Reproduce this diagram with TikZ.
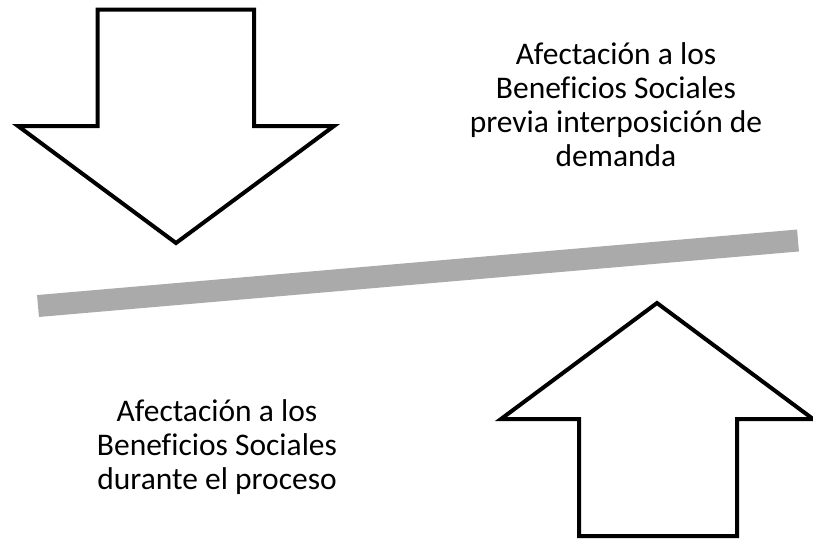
\documentclass[tikz,border=0pt]{standalone}
\usepackage{fontspec}
\setmainfont[Ligatures=CommonOff]{Carlito}
\begin{document}
\begin{tikzpicture}[x=1pt,y=-1pt,
  bigarrow/.style={draw=black,line width=4pt,line join=miter,fill=white},
  bar/.style={draw={rgb,255:red,170;green,170;blue,170},line width=22pt,line cap=butt},
  lbl/.style={align=center,inner sep=0pt,font=\fontsize{31.5}{34}\selectfont}]
\useasboundingbox (0,0) rectangle (813,539);
% down arrow
\draw[bigarrow] (97.5,9.5) -- (254,9.5) -- (254,126) -- (334,126) -- (176,243) -- (18,126) -- (97.5,126) -- cycle;
% up arrow
\draw[bigarrow] (579,536) -- (737,536) -- (737,419) -- (813,419) -- (657,303) -- (501,419) -- (579,419) -- cycle;
% gray bar
\coordinate (barL) at (38,306);
\coordinate (barR) at (798,240.5);
\draw[bar] (barL) -- (barR);
% texts
\node[lbl] (top) at (616,105) {Afectación a los\\Beneficios Sociales\\previa interposición de\\demanda};
\node[lbl] (bottom) at (217,447) {Afectación a los\\Beneficios Sociales\\durante el proceso};
\end{tikzpicture}
\end{document}
